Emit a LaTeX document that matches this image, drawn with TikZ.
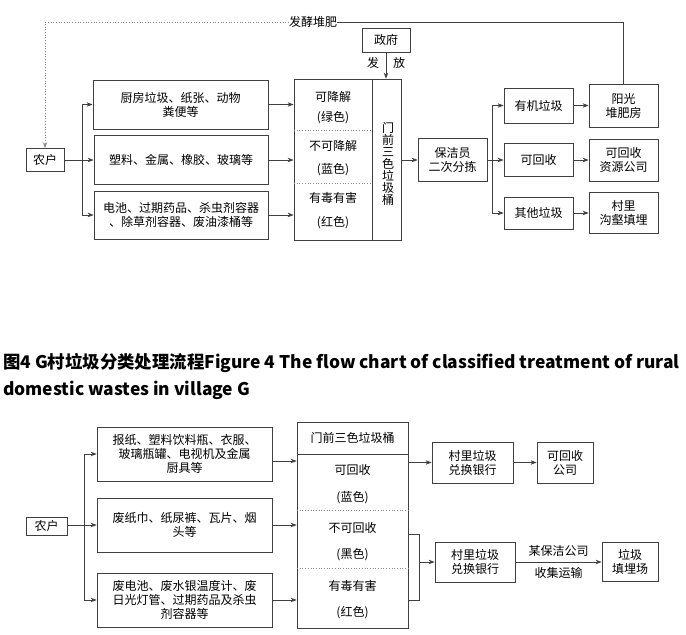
\documentclass[tikz,border=0pt]{standalone}
\usepackage{fontspec}
\newfontfamily\cjk{Noto Sans CJK SC}
\usetikzlibrary{arrows.meta}

\begin{document}
\begin{tikzpicture}[x=1pt,y=-1pt,
  box/.style={draw=black!75,line width=0.8pt,align=center,inner sep=0pt,
    font=\cjk\fontsize{12}{14}\selectfont},
  lbl/.style={inner sep=0pt,align=center,font=\cjk\fontsize{12}{14}\selectfont},
  arr/.style={draw=black!75,line width=0.7pt,-{Stealth[length=6pt,width=4.5pt]}},
  ln/.style={draw=black!75,line width=0.7pt},
  dots/.style={draw=black!45,line width=0.7pt,dotted}]
\useasboundingbox (0,0) rectangle (686,635);

% upper chart
\node[box,minimum width=38,minimum height=23] (nh1) at (45,160) {农户};
\node[box,minimum width=175,minimum height=49] (ta) at (180.5,104.5) {厨房垃圾、纸张、动物\\粪便等};
\node[box,minimum width=174,minimum height=49] (tb) at (181,160) {塑料、金属、橡胶、玻璃等};
\node[box,minimum width=174,minimum height=48] (tc) at (181,215) {电池、过期药品、杀虫剂容器\\、除草剂容器、废油漆桶等};
\node[box,minimum width=107,minimum height=161] (tbin) at (347.5,159.5) {};
\node[box,minimum width=48,minimum height=24] (gov) at (386,40) {政府};
\node[box,minimum width=69,minimum height=43] (bj) at (452.5,160) {保洁员\\二次分拣};
\node[box,minimum width=69,minimum height=35] (yj) at (538.5,105.5) {有机垃圾};
\node[box,minimum width=69,minimum height=33] (khs) at (538.5,160) {可回收};
\node[box,minimum width=69,minimum height=32] (qt) at (538.5,213) {其他垃圾};
\node[box,minimum width=69,minimum height=43] (yg) at (623.5,105.5) {阳光\\堆肥房};
\node[box,minimum width=69,minimum height=42] (zy) at (623.5,160) {可回收\\资源公司};
\node[box,minimum width=69,minimum height=41] (cl) at (623.5,213) {村里\\沟壑填埋};

% bin inside
\draw[ln] (372,79) -- (372,240);
\draw[dots] (294,130) -- (372,130);
\draw[dots] (294,183) -- (372,183);
\node[lbl] (t1) at (333,97) {可降解};
\node[lbl] (t2) at (333,118) {(绿色)};
\node[lbl] (t3) at (333,146) {不可降解};
\node[lbl] (t4) at (333,170) {(蓝色)};
\node[lbl] (t5) at (333,198) {有毒有害};
\node[lbl] (t6) at (333,223) {(红色)};
\node[lbl,font=\cjk\fontsize{12}{12}\selectfont] (tv) at (388,164) {门\\前\\三\\色\\垃\\圾\\桶};

% feedback loop
\node[lbl] (fj) at (313,22) {发酵堆肥};
\draw[dots,-{Stealth[length=6pt,width=4.5pt]}] (fj.west) -- (45,22) -- (nh1.north);
\draw[ln] (fj.east) -| (yg.north);

% government
\draw[arr] (gov.south) -- (tbin.north -| gov.south);
\node[lbl] (fa) at (373,63) {发};
\node[lbl] (fang) at (399,63) {放};

\coordinate (tr1) at (82,0);
\draw[ln] (nh1.east) -- (tr1 |- nh1.east);
\draw[ln] (tr1 |- ta.west) -- (tr1 |- tc.west);
\foreach \n in {ta,tb,tc} {
  \draw[arr] (tr1 |- \n.west) -- (\n.west);
  \draw[arr] (\n.east) -- (\n.east -| tbin.west);
}
\draw[arr] (tbin.east |- bj.west) -- (bj.west);
\coordinate (tr2) at (492,0);
\draw[ln] (bj.east) -- (tr2 |- bj.east);
\draw[ln] (tr2 |- yj.west) -- (tr2 |- qt.west);
\draw[arr] (tr2 |- yj.west) -- (yj.west);
\draw[arr] (tr2 |- khs.west) -- (khs.west);
\draw[arr] (tr2 |- qt.west) -- (qt.west);
\draw[arr] (yj.east) -- (yg.west);
\draw[arr] (khs.east) -- (zy.west);
\draw[arr] (qt.east) -- (cl.west);

% caption
\node[anchor=west,inner sep=0pt,font=\cjk\bfseries\fontsize{17.4}{20}\selectfont] (cap1) at (3,363)
  {图4 G村垃圾分类处理流程Figure 4 The flow chart of classified treatment of rural};
\node[anchor=west,inner sep=0pt,font=\cjk\bfseries\fontsize{17.4}{20}\selectfont] (cap2) at (3,390)
  {domestic wastes in village G};

% lower chart
\node[box,minimum width=41,minimum height=18] (nh2) at (46.5,526) {农户};
\node[box,minimum width=175,minimum height=54] (ba) at (184.5,454) {报纸、塑料饮料瓶、衣服、\\玻璃瓶罐、电视机及金属\\厨具等};
\node[box,minimum width=175,minimum height=54] (bb) at (184.5,525) {废纸巾、纸尿裤、瓦片、烟\\头等};
\node[box,minimum width=175,minimum height=54] (bc) at (184.5,600) {废电池、废水银温度计、废\\日光灯管、过期药品及杀虫\\剂容器等};
\node[box,minimum width=111,minimum height=206] (bbin) at (352.5,525) {};
\node[box,minimum width=81,minimum height=41] (bk1) at (472.5,462.5) {村里垃圾\\兑换银行};
\node[box,minimum width=56,minimum height=41] (bgs) at (565,462.5) {可回收\\公司};
\node[box,minimum width=80,minimum height=40] (bk2) at (475,562) {村里垃圾\\兑换银行};
\node[box,minimum width=56,minimum height=39] (btm) at (630,562) {垃圾\\填埋场};

% bin inside
\draw[ln] (297,454) -- (408,454);
\draw[dots] (297,510) -- (408,510);
\draw[dots] (297,568) -- (408,568);
\node[lbl] (bh) at (352.5,438) {门前三色垃圾桶};
\node[lbl] (b1) at (352.5,470) {可回收};
\node[lbl] (b2) at (352.5,498) {(蓝色)};
\node[lbl] (b3) at (352.5,528) {不可回收};
\node[lbl] (b4) at (352.5,555) {(黑色)};
\node[lbl] (b5) at (352.5,586) {有毒有害};
\node[lbl] (b6) at (352.5,613) {(红色)};

\coordinate (tr3) at (84,0);
\draw[ln] (nh2.east |- bb.west) -- (tr3 |- bb.west);
\draw[ln] (tr3 |- ba.west) -- (tr3 |- bc.west);
\foreach \n in {ba,bb,bc} {
  \draw[arr] (tr3 |- \n.west) -- (\n.west);
}
\draw[arr] (ba.east |- 0,461) -- (bbin.west |- 0,461);
\draw[arr] (bb.east) -- (bb.east -| bbin.west);
\draw[arr] (bc.east) -- (bc.east -| bbin.west);
\draw[arr] (bbin.east |- bk1.west) -- (bk1.west);
\draw[arr] (bk1.east) -- (bgs.west);
\draw[ln] (bbin.east |- 0,534) -- (419,534) -- (419,600) -- (bbin.east |- 0,600);
\draw[arr] (419,562) -- (bk2.west);
\draw[arr] (bk2.east) -- node[lbl,above=5pt] {某保洁公司} node[lbl,below=5pt] {收集运输} (btm.west);
\end{tikzpicture}
\end{document}
